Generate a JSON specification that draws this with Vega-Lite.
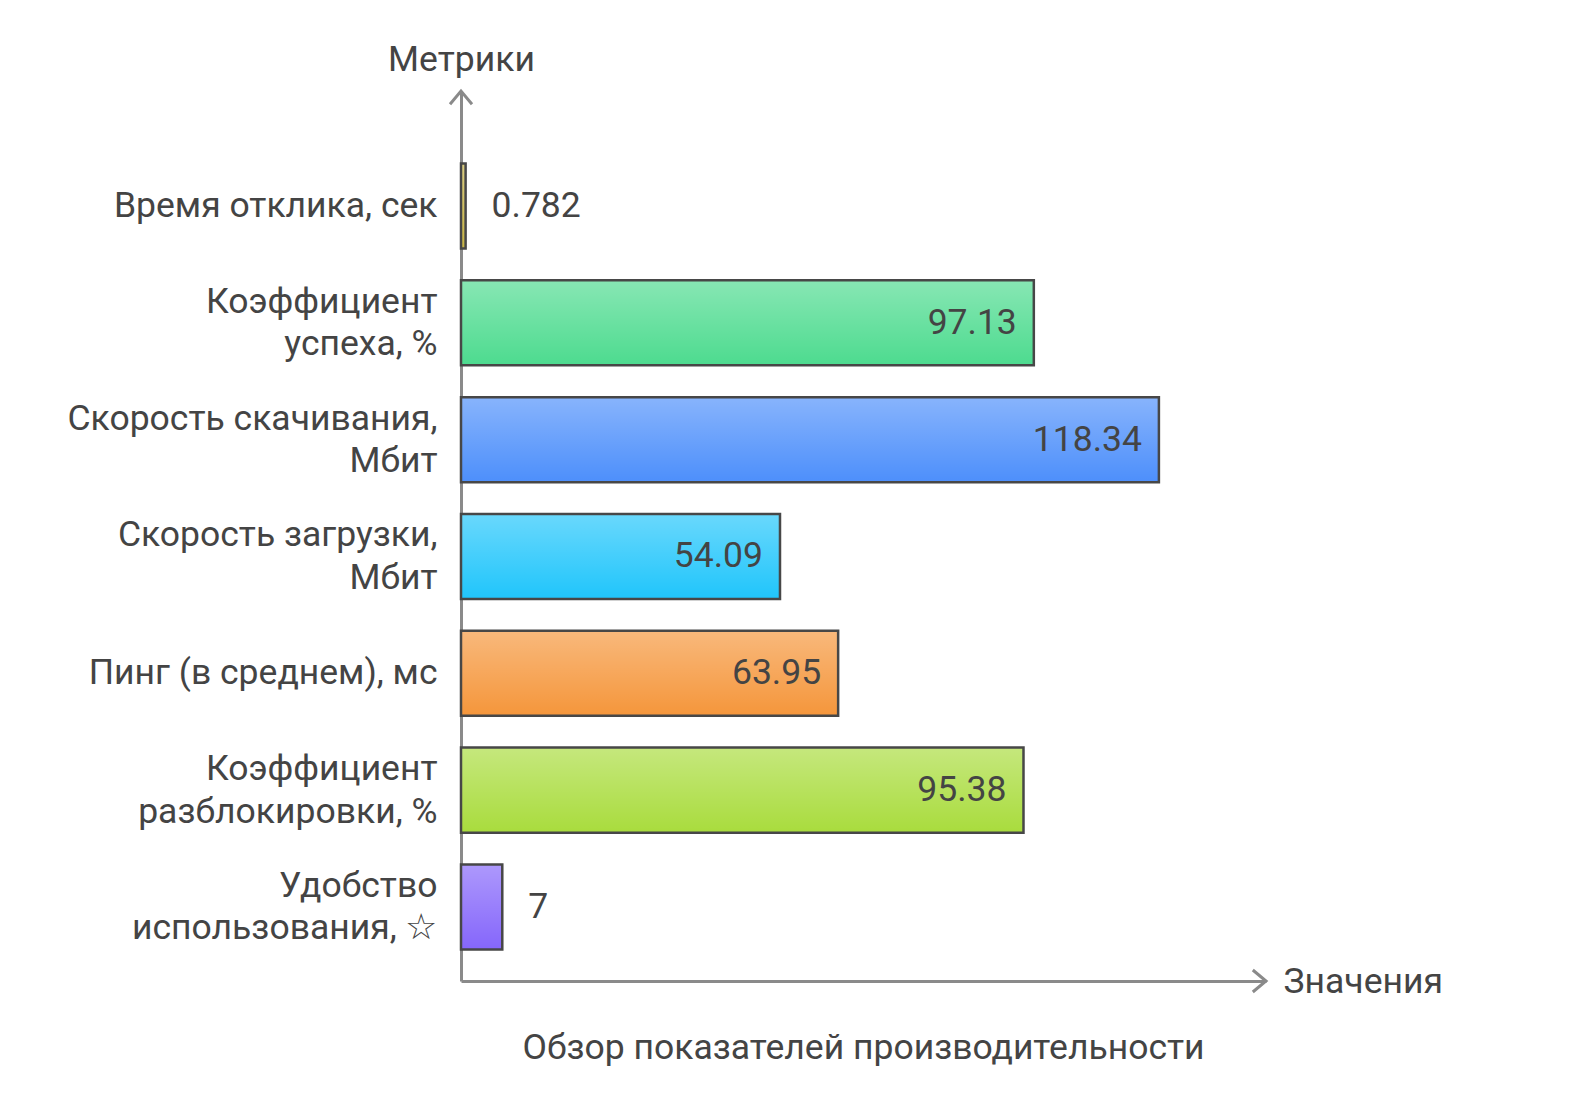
{
  "$schema": "https://vega.github.io/schema/vega-lite/v6.json",
  "width": 805,
  "height": 890,
  "autosize": {"type": "none"},
  "padding": {"left": 461, "top": 91, "right": 316, "bottom": 127},
  "background": "white",
  "config": {
    "view": {"stroke": null},
    "font": "Roboto",
    "text": {"font": "Roboto"}
  },
  "title": {
    "text": "Обзор показателей производительности",
    "orient": "bottom",
    "anchor": "middle",
    "offset": 31,
    "fontSize": 35.5,
    "fontWeight": "normal",
    "color": "#444444",
    "font": "Roboto"
  },
  "layer": [
    {
      "data": {
        "values": [
          {"metric": "Время отклика, сек", "value": 0.782},
          {"metric": "Коэффициент|успеха, %", "value": 97.13},
          {"metric": "Скорость скачивания,|Мбит", "value": 118.34},
          {"metric": "Скорость загрузки,|Мбит", "value": 54.09},
          {"metric": "Пинг (в среднем), мс", "value": 63.95},
          {"metric": "Коэффициент|разблокировки, %", "value": 95.38},
          {"metric": "Удобство|использования, ☆", "value": 7}
        ]
      },
      "encoding": {
        "y": {
          "field": "metric", "type": "nominal", "sort": null,
          "scale": {"paddingInner": 0.272, "paddingOuter": 0.445, "align": 0.697},
          "axis": {
            "title": "Метрики",
            "titleAngle": 0, "titleX": 0, "titleY": -32,
            "titleAlign": "center", "titleBaseline": "middle",
            "titleFontSize": 35.5, "titleFontWeight": "normal", "titleColor": "#444444", "titleFont": "Roboto",
            "labelExpr": "split(datum.label, '|')",
            "labelFontSize": 35.5, "labelColor": "#444444", "labelFont": "Roboto",
            "labelLineHeight": 42.5, "labelPadding": 24, "labelLimit": 600,
            "labelOffset": {"condition": {"test": "indexof(datum.value, '|') >= 0", "value": -21}, "value": 0},
            "ticks": false, "grid": false,
            "domain": true, "domainColor": "#8a8a8a", "domainWidth": 3
          }
        },
        "x": {
          "field": "value", "type": "quantitative",
          "scale": {"domain": [0, 136.5], "nice": false, "zero": true},
          "axis": {
            "title": "Значения",
            "titleX": 822, "titleY": 0,
            "titleAlign": "left", "titleBaseline": "middle",
            "titleFontSize": 35.5, "titleFontWeight": "normal", "titleColor": "#444444", "titleFont": "Roboto",
            "labels": false, "ticks": false, "grid": false,
            "domain": true, "domainColor": "#8a8a8a", "domainWidth": 3
          }
        }
      },
      "layer": [
        {
          "mark": {"type": "bar"},
          "encoding": {
            "color": {
              "field": "metric", "type": "nominal", "sort": null,
              "scale": {
                "domain": ["Время отклика, сек", "Коэффициент|успеха, %", "Скорость скачивания,|Мбит", "Скорость загрузки,|Мбит", "Пинг (в среднем), мс", "Коэффициент|разблокировки, %", "Удобство|использования, ☆"],
                "range": ["#c9b545", "#4ddb8f", "#4d8ffb", "#20c5fb", "#f5963b", "#a9dc3d", "#8566fb"]
              },
              "legend": null
            }
          }
        },
        {
          "mark": {
            "type": "bar",
            "filled": true,
            "fill": {
              "gradient": "linear", "x1": 0, "y1": 0, "x2": 0, "y2": 1,
              "stops": [
                {"offset": 0, "color": "rgba(255,255,255,0.33)"},
                {"offset": 1, "color": "rgba(255,255,255,0)"}
              ]
            },
            "stroke": "#474747",
            "strokeWidth": 2.5
          }
        },
        {
          "transform": [{"filter": "datum.value > 20"}],
          "mark": {"type": "text", "align": "right", "baseline": "middle", "dx": -17, "fontSize": 35.5, "color": "#444444", "font": "Roboto"},
          "encoding": {
            "text": {"field": "value", "type": "nominal"}
          }
        },
        {
          "transform": [{"filter": "datum.value <= 20"}],
          "mark": {"type": "text", "align": "left", "baseline": "middle", "dx": 26, "fontSize": 35.5, "color": "#444444", "font": "Roboto"},
          "encoding": {
            "text": {"field": "value", "type": "nominal"}
          }
        }
      ]
    },
    {
      "data": {"values": [{"ax": 0, "ay": 1}]},
      "mark": {"type": "point", "shape": "M-1,1.2L0,0L1,1.2", "filled": false, "stroke": "#8a8a8a", "strokeWidth": 3, "size": 484, "opacity": 1},
      "encoding": {
        "x": {"field": "ax", "type": "quantitative"},
        "y": {"field": "ay", "type": "quantitative", "scale": {"domain": [0, 1], "nice": false}, "axis": null}
      }
    },
    {
      "data": {"values": [{"ax": 136.5, "ay": 0}]},
      "mark": {"type": "point", "shape": "M-1.2,-1L0,0L-1.2,1", "filled": false, "stroke": "#8a8a8a", "strokeWidth": 3, "size": 484, "opacity": 1},
      "encoding": {
        "x": {"field": "ax", "type": "quantitative"},
        "y": {"field": "ay", "type": "quantitative", "scale": {"domain": [0, 1], "nice": false}, "axis": null}
      }
    }
  ],
  "resolve": {"scale": {"y": "independent"}, "axis": {"y": "independent"}}
}
